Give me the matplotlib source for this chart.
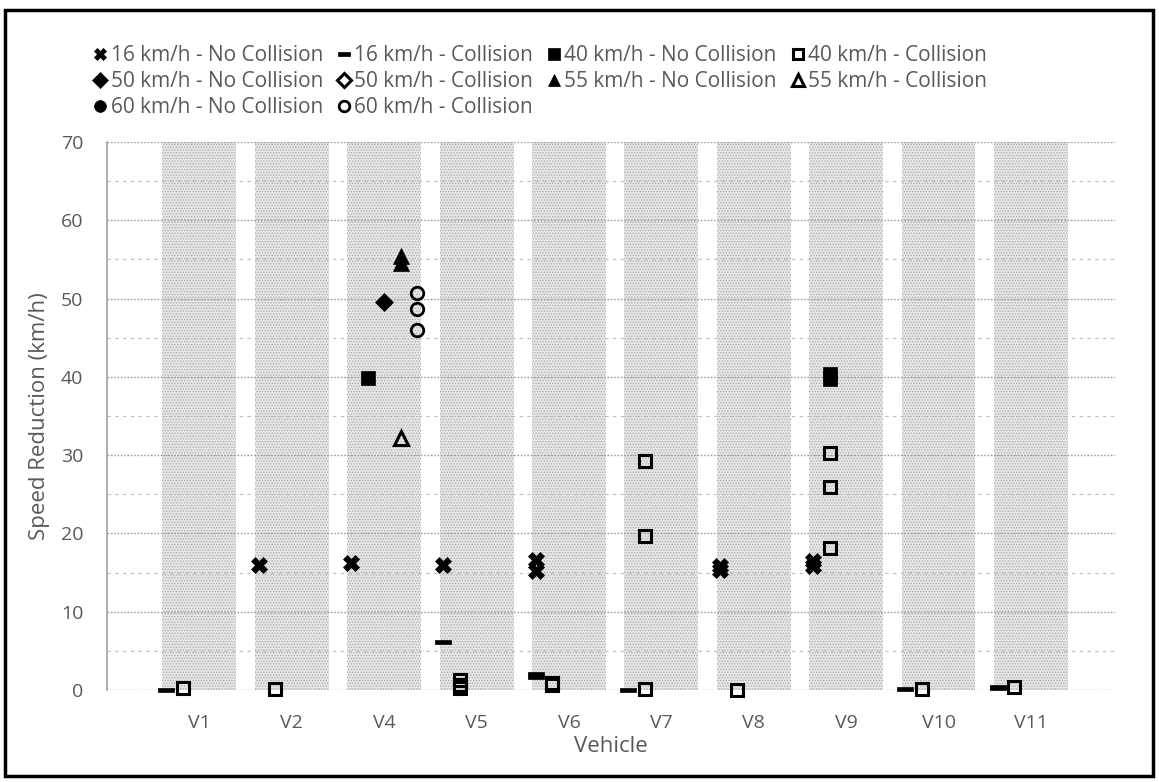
import matplotlib
matplotlib.use("Agg")
import matplotlib.pyplot as plt
from matplotlib.patches import Rectangle

plt.rcParams['font.family'] = ['Open Sans', 'DejaVu Sans']

# ---------------- data ----------------
categories = ['V1', 'V2', 'V4', 'V5', 'V6', 'V7', 'V8', 'V9', 'V10', 'V11']
y_max = 70

# 16 km/h - No Collision
nc16_cat = ['V2', 'V4', 'V5', 'V6', 'V6', 'V8', 'V8', 'V9', 'V9']
nc16_val = [16.0, 16.2, 16.0, 16.6, 15.2, 15.9, 15.3, 16.5, 15.9]
# 16 km/h - Collision
c16_cat = ['V1', 'V5', 'V6', 'V6', 'V7', 'V10', 'V11', 'V11']
c16_val = [0.0, 6.1, 1.7, 2.1, 0.0, 0.1, 0.2, 0.4]
# 40 km/h - No Collision
nc40_cat = ['V4', 'V9', 'V9']
nc40_val = [39.8, 39.7, 40.4]
# 40 km/h - Collision
c40_cat = ['V1', 'V2', 'V5', 'V5', 'V5', 'V6', 'V6', 'V7', 'V7', 'V7',
           'V8', 'V9', 'V9', 'V9', 'V10', 'V11']
c40_val = [0.3, 0.1, 0.2, 0.7, 1.3, 0.6, 0.9, 0.1, 19.7, 29.2,
           0.0, 18.1, 25.9, 30.3, 0.1, 0.4]
# 50 km/h
nc50_cat = ['V4']
nc50_val = [49.6]
c50_cat = []
c50_val = []
# 55 km/h
nc55_cat = ['V4', 'V4']
nc55_val = [55.5, 54.6]
c55_cat = ['V4']
c55_val = [32.2]
# 60 km/h
nc60_cat = []
nc60_val = []
c60_cat = ['V4', 'V4', 'V4']
c60_val = [50.7, 48.7, 46.0]

# ---------------- layout ----------------
W, H = 1159, 782
fig = plt.figure(figsize=(W / 100, H / 100), dpi=100)
ax = fig.add_axes([107 / W, 1 - 690 / H, (1115 - 107) / W, (690 - 142) / H])

pos = {c: i + 1 for i, c in enumerate(categories)}
offset = {16: -0.36, 40: -0.18, 50: 0.0, 55: 0.18, 60: 0.36}

# background bands
plt.rcParams['hatch.color'] = '#ababab'
plt.rcParams['hatch.linewidth'] = 0.6
ax.bar([pos[c] for c in categories], [y_max] * len(categories), width=0.8,
       color='#e6e6e6', edgecolor='#ababab', hatch='......', linewidth=0, zorder=1)

dash = [(-1, -0.32), (1, -0.32), (1, 0.32), (-1, 0.32), (-1, -0.32)]

series = [
    # label, cats, vals, speed, marker, filled, size, mew
    ('16 km/h - No Collision', nc16_cat, nc16_val, 16, 'X', True, 11, 0.5),
    ('50 km/h - No Collision', nc50_cat, nc50_val, 50, 'D', True, 9, 0.5),
    ('60 km/h - No Collision', nc60_cat, nc60_val, 60, 'o', True, 10, 0.5),
    ('16 km/h - Collision', c16_cat, c16_val, 16, dash, True, 11, 0.5),
    ('50 km/h - Collision', c50_cat, c50_val, 50, 'D', False, 8, 2.2),
    ('60 km/h - Collision', c60_cat, c60_val, 60, 'o', False, 9, 2.0),
    ('40 km/h - No Collision', nc40_cat, nc40_val, 40, 's', True, 10, 0.5),
    ('55 km/h - No Collision', nc55_cat, nc55_val, 55, '^', True, 11, 0.5),
    ('40 km/h - Collision', c40_cat, c40_val, 40, 's', False, 9, 2.2),
    ('55 km/h - Collision', c55_cat, c55_val, 55, '^', False, 10, 2.2),
]

handles = []
for label, cats, vals, spd, mk, filled, ms, mew in series:
    xs = [pos[c] + offset[spd] for c in cats]
    h, = ax.plot(xs, vals, linestyle='none', marker=mk, markersize=ms,
                 markerfacecolor='black' if filled else 'none',
                 markeredgecolor='black', markeredgewidth=mew,
                 label=label, zorder=3, clip_on=False)
    handles.append(h)

ax.set_xlim(0, 10.91)
ax.set_ylim(0, y_max)
ax.set_xticks([pos[c] for c in categories])
ax.set_xticklabels(categories)
ax.set_yticks(range(0, y_max + 1, 10))
ax.set_yticks(range(5, y_max, 10), minor=True)

grey = '#595959'
ax.tick_params(axis='both', which='both', length=0, labelsize=14, labelcolor=grey)
ax.tick_params(axis='y', pad=17)
ax.tick_params(axis='x', pad=17)

ax.set_axisbelow(False)
ax.grid(axis='y', which='major', color='#9e9e9e', linestyle=(0, (1.2, 1.2)), linewidth=1.0)
ax.grid(axis='y', which='minor', color='#bdbdbd', linestyle=(0, (3, 4)), linewidth=0.8)
ax.grid(axis='x', visible=False)

for s in ['top', 'right', 'bottom']:
    ax.spines[s].set_visible(False)
ax.spines['left'].set_color('#a0a0a0')
ax.spines['left'].set_linewidth(1.2)
ax.set_facecolor('white')

ax.set_xlabel('Vehicle', fontsize=16, color=grey, labelpad=3)
ax.set_ylabel('Speed Reduction (km/h)', fontsize=16, color=grey, labelpad=8)

fig.legend(handles=handles, ncol=4, loc='upper left',
           bbox_to_anchor=(94 / W, 1 - 45 / H), frameon=False,
           fontsize=15, labelcolor=grey, handlelength=0.6, handletextpad=0.2,
           columnspacing=0.7, labelspacing=0.25, borderpad=0, borderaxespad=0,
           markerscale=0.85)

# outer border
fig.patches.append(Rectangle((5 / W, 1 - 776 / H), (1153 - 5) / W, (776 - 10) / H,
                             transform=fig.transFigure, fill=False,
                             edgecolor='black', linewidth=2.5))

fig.savefig('out.png', dpi=100)
